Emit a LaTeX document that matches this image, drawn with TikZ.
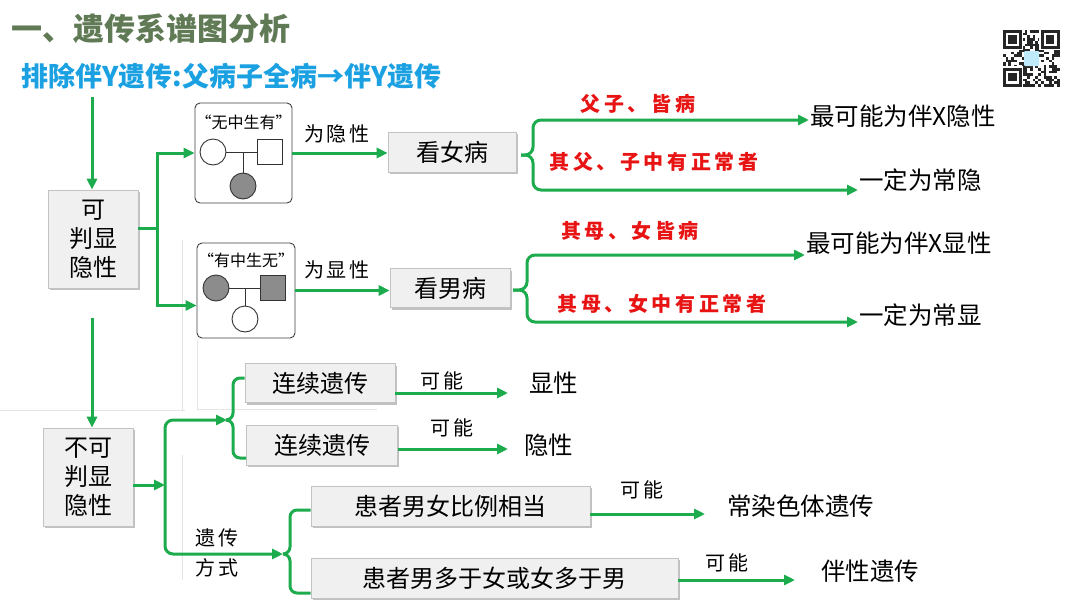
\documentclass[tikz,border=0pt]{standalone}
\usepackage{fontspec}
\setmainfont{Noto Sans CJK SC}
\usetikzlibrary{arrows.meta,shadows}
\definecolor{gr}{RGB}{28,172,78}
\definecolor{ttl}{RGB}{96,122,86}
\definecolor{subc}{RGB}{27,161,226}
\definecolor{rd}{RGB}{232,20,20}
\definecolor{boxfill}{RGB}{240,240,240}
\definecolor{boxline}{RGB}{195,195,195}
\definecolor{aff}{RGB}{140,140,140}
\definecolor{faint}{RGB}{228,228,228}
\newcommand{\myfinder}[2]{%
  \fill[white] (#1-1.35,#2-1.35) rectangle ++(21.6,21.6);
  \fill[black!85] (#1,#2) rectangle ++(18.9,18.9);
  \fill[white] (#1+2.7,#2+2.7) rectangle ++(13.5,13.5);
  \fill[black!85] (#1+5.4,#2+5.4) rectangle ++(8.1,8.1);}
\begin{document}
\begin{tikzpicture}[x=1pt,y=-1pt,
  gline/.style={draw=gr,line width=3pt},
  arr/.style={gline,-{Triangle[length=11pt,width=10pt]}},
  brace/.style={gline,rounded corners=7pt},
  gbox/.style={draw=boxline,fill=boxfill,line width=0.6pt,
    drop shadow={shadow xshift=1.5pt,shadow yshift=-2pt,fill=black!40,opacity=0.6},
    inner sep=0pt,align=center,font=\fontsize{24}{29}\selectfont},
  ped/.style={draw=black!75,fill=white,rounded corners=5pt,line width=0.9pt},
  pm/.style={circle,draw=black!80,line width=0.9pt,minimum size=26pt,inner sep=0pt},
  pf/.style={rectangle,draw=black!80,line width=0.9pt,minimum size=25pt,inner sep=0pt},
  lab/.style={font=\fontsize{20}{24}\selectfont\addfontfeature{LetterSpace=12}},
  redlab/.style={text=rd,font=\fontsize{20}{24}\selectfont\bfseries\addfontfeature{LetterSpace=18}},
  res/.style={anchor=west,inner sep=1pt,font=\fontsize{24.5}{28}\selectfont},
]
\useasboundingbox (0,0) rectangle (1080,608);
\fill[white] (0,0) rectangle (1080,608);

% faint panel lines
\draw[faint,line width=0.7pt] (0,410) -- (185,410);
\draw[faint,line width=0.7pt] (197,409) -- (377,409);
\draw[faint,line width=0.7pt] (182,240) -- (182,410);
\draw[faint,line width=0.7pt] (197,340) -- (197,409);
\draw[faint,line width=0.7pt] (182,455) -- (182,580);

% title
\node[anchor=west,text=ttl,font=\fontsize{31}{35}\selectfont\bfseries] (title) at (8,29) {一、遗传系谱图分析};
\node[anchor=west,text=subc,font=\fontsize{27}{31}\selectfont\bfseries] (sub) at (18,76) {排除伴Y遗传:父病子全病→伴Y遗传};

% QR code
\begin{scope}
\pgfmathsetseed{12}
\foreach \i in {0,...,20}{\foreach \j in {0,...,20}{
  \pgfmathtruncatemacro{\rr}{rnd*100}
  \ifnum\rr>52 \fill[black!85] (1003+\i*2.7,30+\j*2.7) rectangle ++(2.7,2.7);\fi}}
\myfinder{1003}{30}
\myfinder{1040.8}{30}
\myfinder{1003}{67.8}
\fill[cyan!25,rounded corners=1pt] (1024,51) rectangle (1039,66);
\end{scope}

% upper part
\node[gbox,minimum width=90pt,minimum height=98pt] (A) at (93,239) {可\\判显\\隐性};
\coordinate (s1) at (92,97);
\draw[arr] (s1) -- (s1 |- A.north);

\node[ped,minimum width=97pt,minimum height=100pt] (P1) at (243.5,153) {};
\node[font=\fontsize{16}{18}\selectfont] (q1) at (243.5,122) {“无中生有”};
\node[pm,fill=white] (m1) at (213,152) {};
\node[pf,fill=white] (f1) at (270,152) {};
\node[pm,fill=aff] (c1) at (243,186) {};
\draw[black!80,line width=0.9pt] (m1.east) -- (f1.west);
\draw[black!80,line width=0.9pt] (c1.north) -- (c1 |- m1);

\node[ped,minimum width=98pt,minimum height=95pt] (P2) at (246,290.5) {};
\node[font=\fontsize{16}{18}\selectfont] (q2) at (246,260) {“有中生无”};
\node[pm,fill=aff] (m2) at (216,288) {};
\node[pf,fill=aff] (f2) at (273,288) {};
\node[pm,fill=white] (c2) at (245,319) {};
\draw[black!80,line width=0.9pt] (m2.east) -- (f2.west);
\draw[black!80,line width=0.9pt] (c2.north) -- (c2 |- m2);

\coordinate (j1) at (157,228);
\draw[gline] (A.east |- j1) -- (j1);
\draw[arr] (j1) |- (P1.west);
\draw[arr] (j1) |- ([yshift=-15pt]P2.west);

\node[gbox,minimum width=128pt,minimum height=40pt] (K1) at (452,152) {看女病};
\node[gbox,minimum width=120pt,minimum height=39pt] (K2) at (450,288) {看男病};
\draw[arr] (P1.east) -- (P1.east -| K1.west);
\draw[arr] (P2.east) -- (P2.east -| K2.west);
\node[lab] (l1) at (337,134) {为隐性};
\node[lab] (l2) at (337,270) {为显性};

% brace 1
\coordinate (b1) at (521,155);
\coordinate (c1t) at (533,120);
\coordinate (c1b) at (533,190);
\node[res] (R1) at (809,116) {最可能为伴X隐性};
\node[res] (R2) at (858,180) {一定为常隐};
\draw[arr,rounded corners=8pt] (b1) -| (c1t) -- (R1.west |- c1t);
\draw[arr,rounded corners=8pt] (b1) -| (c1b) -- (R2.west |- c1b);
\node[redlab] (L1) at (638,104) {父子、皆病};
\node[redlab] (L2) at (654,162) {其父、子中有正常者};

% brace 2
\coordinate (b2) at (513,290);
\coordinate (c2t) at (527,255);
\coordinate (c2b) at (527,322);
\node[res] (R3) at (805,243) {最可能为伴X显性};
\node[res] (R4) at (858,315) {一定为常显};
\draw[arr,rounded corners=8pt] (b2) -| (c2t) -- (R3.west |- c2t);
\draw[arr,rounded corners=8pt] (b2) -| (c2b) -- (R4.west |- c2b);
\node[redlab] (L3) at (630,231) {其母、女皆病};
\node[redlab] (L4) at (662,304) {其母、女中有正常者};

% lower part
\coordinate (s2) at (92,318);
\node[gbox,minimum width=90pt,minimum height=98pt] (B) at (88,477) {不可\\判显\\隐性};
\draw[arr] (s2) -- (s2 |- B.north);
\coordinate (jB) at (165,485);
\draw[arr] (B.east |- jB) -- (jB);
\coordinate (T2) at (227,420);
\coordinate (T3) at (283,554);
\draw[arr,rounded corners=8pt] (jB) |- (T2);
\draw[arr,rounded corners=8pt] (jB) |- (T3);

\node[gbox,minimum width=150pt,minimum height=39pt] (X1) at (320,383) {连续遗传};
\node[gbox,minimum width=151pt,minimum height=40pt] (X2) at (322,445) {连续遗传};
\coordinate (u1) at (233,378);
\coordinate (u2) at (233,458);
\draw[brace] (T2) -| (u1) -- (X1.west |- u1);
\draw[brace] (T2) -| (u2) -- (X2.west |- u2);
\coordinate (a1) at (508,393);
\coordinate (a2) at (508,449);
\draw[arr] (X1.east |- a1) -- (a1);
\draw[arr] (X2.east |- a2) -- (a2);
\node[lab] (k1) at (442,381) {可能};
\node[lab] (k2) at (452,428) {可能};
\node[res] (V1) at (528,383) {显性};
\node[res] (V2) at (523,445) {隐性};

\node[gbox,minimum width=279pt,minimum height=40pt] (H1) at (450.5,506) {患者男女比例相当};
\node[gbox,minimum width=367pt,minimum height=40pt] (H2) at (494.5,578) {患者男多于女或女多于男};
\coordinate (v1) at (290,510);
\coordinate (v2) at (290,593);
\draw[brace] (T3) -| (v1) -- (H1.west |- v1);
\draw[brace] (T3) -| (v2) -- (H2.west |- v2);
\node[lab] (w1) at (217,538) {遗传};
\node[lab] (w2) at (217,568) {方式};
\coordinate (e1) at (705,514);
\coordinate (e2) at (795,580);
\draw[arr] (H1.east |- e1) -- (e1);
\draw[arr] (H2.east |- e2) -- (e2);
\node[lab] (k3) at (642,490) {可能};
\node[lab] (k4) at (727,563) {可能};
\node[res] (W1) at (726,506) {常染色体遗传};
\node[res] (W2) at (820,571) {伴性遗传};
\end{tikzpicture}
\end{document}
